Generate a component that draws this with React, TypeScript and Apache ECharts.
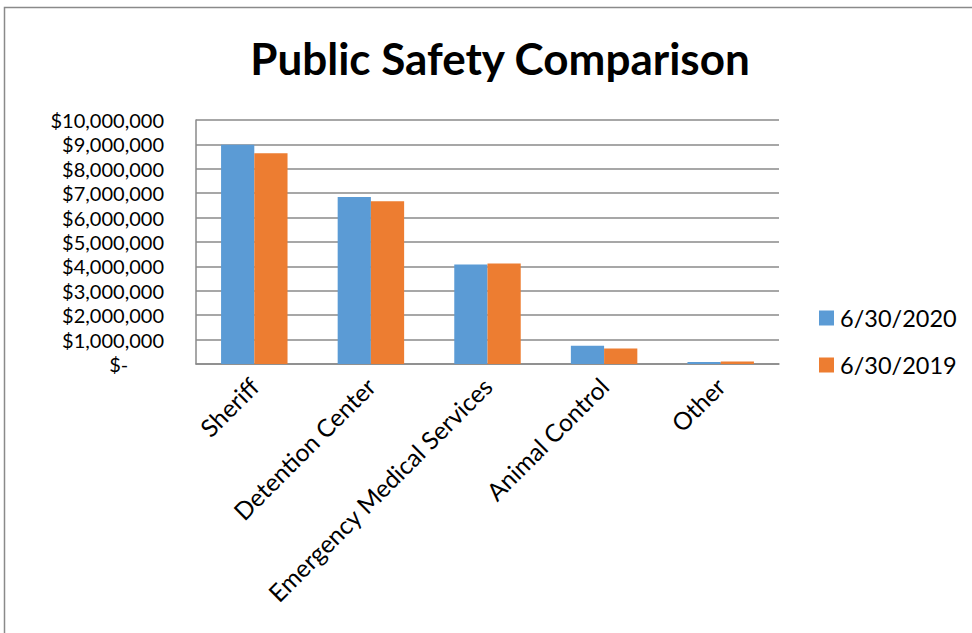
import React, { useEffect, useRef } from "react";
import * as echarts from "echarts";

const categories = ["Sheriff", "Detention Center", "Emergency Medical Services", "Animal Control", "Other"];
const series2020 = [8990000, 6840000, 4080000, 750000, 80000];
const series2019 = [8640000, 6670000, 4120000, 640000, 100000];
const seriesNames = ["6/30/2020", "6/30/2019"];
const yTicks = [0, 1000000, 2000000, 3000000, 4000000, 5000000, 6000000, 7000000, 8000000, 9000000, 10000000];

const FONT = "Lato, 'Noto Sans', sans-serif";

function fmt(v: number): string {
  if (v === 0) return "$-       ";
  return "$" + v.toLocaleString("en-US");
}

export default function App() {
  const ref = useRef<HTMLDivElement>(null);
  useEffect(() => {
    if (!ref.current) return;
    const chart = echarts.init(ref.current, null, { renderer: "svg" });
    chart.setOption({
      animation: false,
      backgroundColor: "#ffffff",
      title: {
        text: "Public Safety Comparison",
        left: 495,
        textAlign: "center",
        top: 31,
        textStyle: { fontFamily: FONT, fontWeight: "bold", fontSize: 44, color: "#000" },
      },
      graphic: [
        {
          type: "polyline",
          shape: { points: [[4.5, 640], [4.5, 7.5], [980, 7.5]] },
          style: { stroke: "#8a8a8a", lineWidth: 1.5, fill: null },
        },
      ],
      legend: {
        orient: "vertical",
        left: 814,
        top: 301,
        itemWidth: 15,
        itemHeight: 15,
        itemGap: 23,
        icon: "rect",
        textStyle: { fontFamily: FONT, fontSize: 23.5, lineHeight: 24, color: "#000", padding: [0, 0, 0, 1] },
        data: seriesNames,
      },
      grid: { left: 196, right: 193, top: 120, bottom: 269, containLabel: false },
      xAxis: {
        type: "category",
        data: categories,
        axisLine: { show: true, lineStyle: { color: "#8a8a8a", width: 1.5 } },
        axisTick: { show: false },
        axisLabel: {
          rotate: 45,
          interval: 0,
          margin: 18,
          fontFamily: FONT,
          fontSize: 24.5,
          color: "#000",
        },
      },
      yAxis: {
        type: "value",
        min: 0,
        max: 10000000,
        interval: 1000000,
        axisLine: { show: true, lineStyle: { color: "#8a8a8a", width: 1.5 } },
        axisTick: { show: false },
        splitLine: { show: true, lineStyle: { color: "#8a8a8a", width: 1.5 } },
        axisLabel: {
          margin: 32,
          fontFamily: FONT,
          fontSize: 20,
          lineHeight: 20,
          color: "#000",
          formatter: (v: number) => (yTicks.includes(v) ? fmt(v) : ""),
        },
      },
      series: [
        {
          name: seriesNames[0],
          type: "bar",
          data: series2020,
          barGap: "0%",
          barCategoryGap: "43%",
          itemStyle: { color: "#5B9BD5" },
        },
        {
          name: seriesNames[1],
          type: "bar",
          data: series2019,
          itemStyle: { color: "#ED7D31" },
        },
      ],
    });
    return () => chart.dispose();
  }, []);
  return (
    <div
      ref={ref}
      style={{ position: "fixed", left: 0, top: 0, width: 972, height: 633 }}
    />
  );
}
